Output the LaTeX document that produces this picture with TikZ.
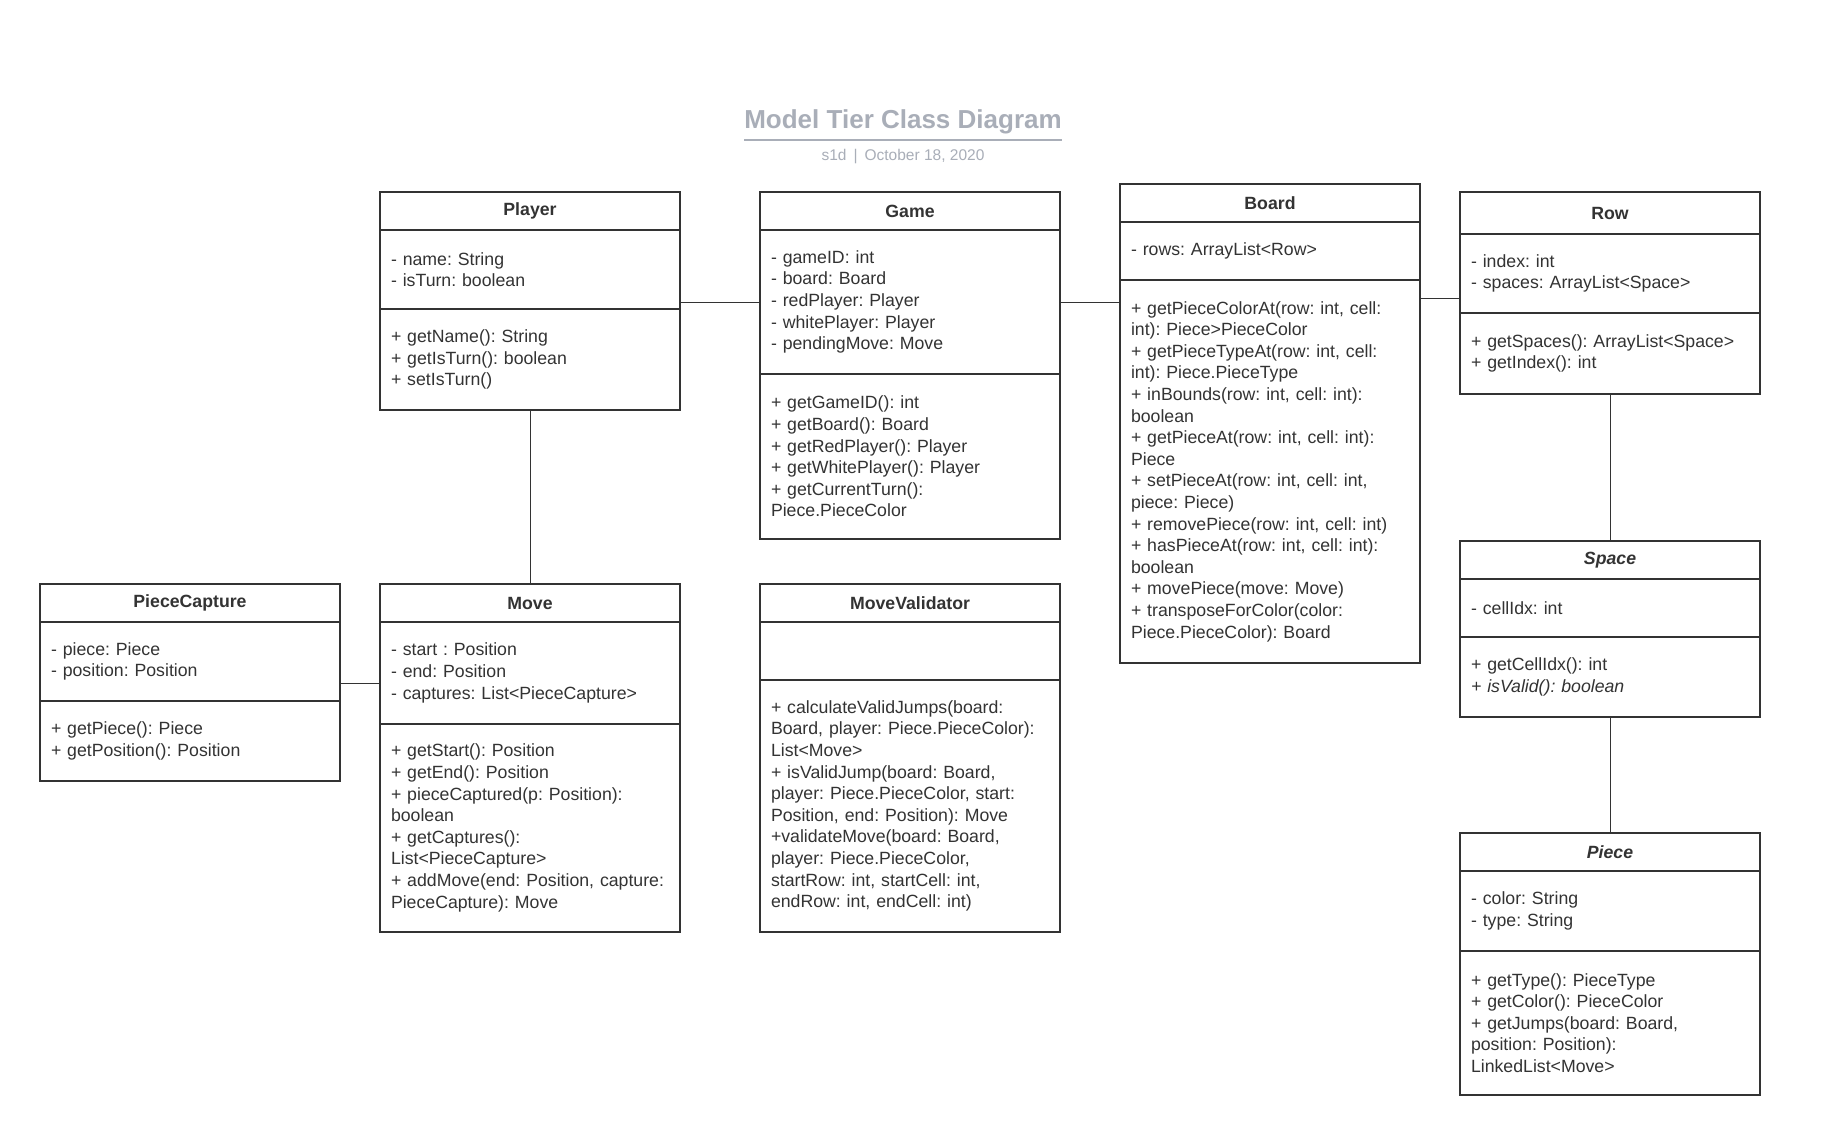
\documentclass[tikz,border=0pt]{standalone}
\usepackage{fontspec}
\setmainfont{Liberation Sans}
\usetikzlibrary{positioning}
\definecolor{ink}{HTML}{333333}
\definecolor{titlegray}{HTML}{A9AEB8}
\frenchspacing
\hyphenpenalty=10000

\begin{document}
\begin{tikzpicture}[
  x=1pt, y=-1pt,
  classhead/.style={
    rectangle,
    draw=ink,
    line width=2pt,
    outer sep=0pt,
    inner xsep=11pt,
    inner ysep=0pt,
    text width=278pt,
    align=center,
    minimum height=38pt,
    text=ink,
    font=\fontsize{17.7pt}{21.6pt}\selectfont\bfseries
  },
  classbody/.style={
    rectangle,
    draw=ink,
    line width=2pt,
    outer sep=0pt,
    inner xsep=11pt,
    inner ysep=0pt,
    text width=278pt,
    align=left,
    text=ink,
    font=\fontsize{17.7pt}{21.6pt}\selectfont
  },
  link/.style={draw=ink, line width=1pt},
  node distance=0pt
]

\fill[white] (0,0) rectangle (1827,1127);
\useasboundingbox (0,0) rectangle (1827,1127);

% title
\node[font=\fontsize{26pt}{30pt}\selectfont\bfseries, text=titlegray, inner sep=0pt] (title) at (903,122) {Model Tier Class Diagram};
\draw[titlegray, line width=2pt] ([yshift=-6pt]title.south west) -- ([yshift=-6pt]title.south east);
\node[font=\fontsize{15.5pt}{18pt}\selectfont, text=titlegray, inner sep=0pt] (subtitle) at (903,157) {s1d\hspace{7pt}|\hspace{7pt}October 18, 2020};

% Player
\node[classhead, anchor=north west] (player) at (380,192) {Player};
\node[classbody, below=of player, minimum height=79pt] (playerAttr) {- name: String\\- isTurn: boolean};
\node[classbody, below=of playerAttr, minimum height=101pt] (playerOps) {+ getName(): String\\+ getIsTurn(): boolean\\+ setIsTurn()};

% Game
\node[classhead, right=80pt of player] (game) {Game};
\node[classbody, below=of game, minimum height=144pt] (gameAttr) {- gameID: int\\- board: Board\\- redPlayer: Player\\- whitePlayer: Player\\- pendingMove: Move};
\node[classbody, below=of gameAttr, minimum height=165pt] (gameOps) {+ getGameID(): int\\+ getBoard(): Board\\+ getRedPlayer(): Player\\+ getWhitePlayer(): Player\\+ getCurrentTurn():\\Piece.PieceColor};

% Board
\node[classhead, anchor=north west] (board) at (1120,184) {Board};
\node[classbody, below=of board, minimum height=58pt] (boardAttr) {- rows: ArrayList<Row>};
\node[classbody, below=of boardAttr, minimum height=383pt] (boardOps) {+ getPieceColorAt(row: int, cell:\\int): Piece>PieceColor\\+ getPieceTypeAt(row: int, cell:\\int): Piece.PieceType\\+ inBounds(row: int, cell: int):\\boolean\\+ getPieceAt(row: int, cell: int):\\Piece\\+ setPieceAt(row: int, cell: int,\\piece: Piece)\\+ removePiece(row: int, cell: int)\\+ hasPieceAt(row: int, cell: int):\\boolean\\+ movePiece(move: Move)\\+ transposeForColor(color:\\Piece.PieceColor): Board};

% Row
\node[classhead, anchor=north west, minimum height=42pt] (row) at (1460,192) {Row};
\node[classbody, below=of row, minimum height=79pt] (rowAttr) {- index: int\\- spaces: ArrayList<Space>};
\node[classbody, below=of rowAttr, minimum height=81pt] (rowOps) {+ getSpaces(): ArrayList<Space>\\+ getIndex(): int};

% Space
\node[classhead, below=147pt of rowOps] (space) {\itshape Space};
\node[classbody, below=of space, minimum height=58pt] (spaceAttr) {- cellIdx: int};
\node[classbody, below=of spaceAttr, minimum height=80pt] (spaceOps) {+ getCellIdx(): int\\\textit{+ isValid(): boolean}};

% Piece
\node[classhead, below=116pt of spaceOps] (piece) {\itshape Piece};
\node[classbody, below=of piece, minimum height=80pt] (pieceAttr) {- color: String\\- type: String};
\node[classbody, below=of pieceAttr, minimum height=144pt] (pieceOps) {+ getType(): PieceType\\+ getColor(): PieceColor\\+ getJumps(board: Board,\\position: Position):\\LinkedList<Move>};

% Move
\node[classhead, below=174pt of playerOps] (move) {Move};
\node[classbody, below=of move, minimum height=102pt] (moveAttr) {- start : Position\\- end: Position\\- captures: List<PieceCapture>};
\node[classbody, below=of moveAttr, minimum height=208pt] (moveOps) {+ getStart(): Position\\+ getEnd(): Position\\+ pieceCaptured(p: Position):\\boolean\\+ getCaptures():\\List<PieceCapture>\\+ addMove(end: Position, capture:\\PieceCapture): Move};

% MoveValidator
\node[classhead, right=80pt of move] (validator) {MoveValidator};
\node[classbody, below=of validator, minimum height=58pt] (validatorAttr) {};
\node[classbody, below=of validatorAttr, minimum height=252pt] (validatorOps) {+ calculateValidJumps(board:\\Board, player: Piece.PieceColor):\\List<Move>\\+ isValidJump(board: Board,\\player: Piece.PieceColor, start:\\Position, end: Position): Move\\+validateMove(board: Board,\\player: Piece.PieceColor,\\startRow: int, startCell: int,\\endRow: int, endCell: int)};

% PieceCapture
\node[classhead, left=40pt of move] (capture) {PieceCapture};
\node[classbody, below=of capture, minimum height=79pt] (captureAttr) {- piece: Piece\\- position: Position};
\node[classbody, below=of captureAttr, minimum height=80pt] (captureOps) {+ getPiece(): Piece\\+ getPosition(): Position};

% associations
\coordinate (rowLink) at ([yshift=-25pt]rowAttr.west);
\coordinate (moveLink) at ([yshift=-10pt]moveAttr.west);
\draw[link] (gameAttr.west) -- (gameAttr.west -| playerAttr.east);
\draw[link] (gameAttr.east) -- (gameAttr.east -| boardOps.west);
\draw[link] (rowLink) -- (rowLink -| boardOps.east);
\draw[link] (playerOps.south) -- (move.north);
\draw[link] (moveLink) -- (moveLink -| captureAttr.east);
\draw[link] (rowOps.south) -- (space.north);
\draw[link] (spaceOps.south) -- (piece.north);

\end{tikzpicture}
\end{document}
